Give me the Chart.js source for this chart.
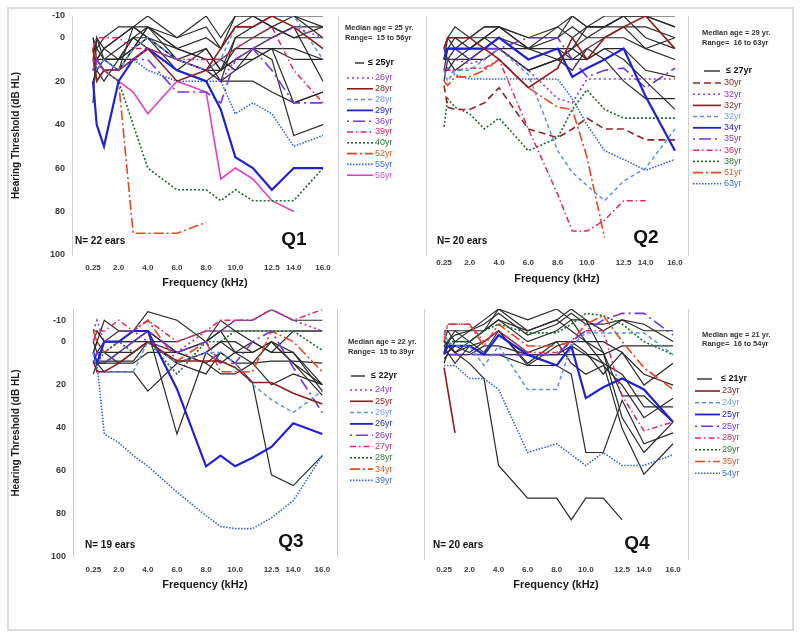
<!DOCTYPE html>
<html><head><meta charset="utf-8">
<script src="https://cdn.jsdelivr.net/npm/chart.js@4.4.1/dist/chart.umd.min.js"></script>
<style>
html,body{margin:0;padding:0;background:#fff}
body{width:800px;height:638px;position:relative;overflow:hidden}
canvas{position:absolute;left:0;top:0}
#frame{position:absolute;left:7px;top:7px;width:783px;height:620px;border:2px solid #dcdcdc}
</style></head><body>
<div id="frame"></div>
<canvas id="q1" width="800" height="638"></canvas>
<canvas id="q2" width="800" height="638"></canvas>
<canvas id="q3" width="800" height="638"></canvas>
<canvas id="q4" width="800" height="638"></canvas>
<script>
const FONT = '"Liberation Sans", Arial, sans-serif';

// ---------- axes ----------
const freqs = [0.25, 0.5, 1, 2, 3, 4, 6, 8, 9, 10, 11.2, 12.5, 14, 16];
const xTickValues = [0.25, 2, 4, 6, 8, 10, 12.5, 14, 16];
const xTickLabels = ['0.25', '2.0', '4.0', '6.0', '8.0', '10.0', '12.5', '14.0', '16.0'];
const yTickValues = [-10, 0, 20, 40, 60, 80, 100];
const yTickLabels = ['-10', '0', '20', '40', '60', '80', '100'];

// ---------- Q1 (dB HL at freqs) ----------
const q1_26yr  = [10, 12, 15, 15, 10, 5, 10, 15, 20, 10, 5, 0, -5, 0];
const q1_28yrA = [5, 20, 15, 15, 10, 5, 20, 15, 5, -5, -5, -10, -5, 5];
const q1_28yrB = [10, 15, 10, 15, 5, 0, 10, 15, 10, -5, -5, -10, -10, 10];
const q1_29yr  = [20, 40, 50, 20, 10, 5, 15, 20, 33, 55, 60, 70, 60, 60];
const q1_36yr  = [15, 10, 15, 15, 10, 10, 25, 25, 30, 10, 5, 15, 30, 30];
const q1_39yr  = [5, 0, 0, 0, 5, 5, 10, 10, 10, 5, 0, -5, 15, 30];
const q1_40yr  = [10, 10, 15, 20, 40, 60, 70, 70, 75, 70, 75, 75, 75, 60];
const q1_52yr  = [5, 10, 15, 20, 90, 90, 90, 85, null, null, null, null, null, null];
const q1_55yr  = [15, 15, 10, 15, 10, 15, 20, 20, 20, 35, 30, 35, 50, 45];
const q1_56yr  = [15, 10, 15, 20, 25, 35, 20, 25, 65, 60, 65, 75, 80, null];
const q1_black = [
  [0, 5, 0, -5, -5, -10, 0, -10, 0, -10, -10, -10, -10, -10],
  [10, 0, 5, 0, -5, 0, 10, 5, 15, 0, -5, -10, -10, -5],
  [5, 15, 10, 15, 5, -5, 10, 15, 20, 15, 5, 10, 45, 40],
  [15, 10, 5, 10, 0, 5, 10, 15, 15, 10, 10, 5, 30, 25],
  [10, 20, 15, 15, 5, 0, 10, 15, 10, 15, 10, 5, 10, 10],
  [30, 0, 10, 10, 0, 0, 10, 15, 20, 20, 20, 25, 30, 25],
  [0, 10, 15, 15, -5, 0, 5, 10, 20, 0, 0, 0, -5, 20],
  [5, 5, 10, 5, 0, -5, 5, 0, 5, -5, -10, -5, 0, -5],
  [15, 10, 10, 10, 5, 0, 15, 5, 15, 5, 0, -5, -10, 0],
  [10, 15, 10, 10, 10, 5, 15, 20, 15, 10, 5, 5, 5, 10],
  [5, 10, 5, 0, -5, -5, 5, 10, 10, 5, 5, 0, -5, -5],
  [20, 15, 20, 10, 5, -5, 0, -5, 5, -10, -10, -5, 0, 0]
];

// ---------- Q2 ----------
const q2_30yr  = [22, 32, 33, 33, 30, 23, 42, 46, 42, 37, 42, 42, 47, 47];
const q2_32yrA = [15, 10, 10, 12, 10, 5, 15, 28, 30, 19, 19, 19, 19, 19];
const q2_32yrB = [5, 0, 0, 0, 5, 10, 23, 14, 0, 10, 0, -5, -10, 5];
const q2_32yrC = [15, 20, 15, 15, 10, 5, 17, 52, 62, 68, 75, 66, 60, 42];
const q2_34yr  = [10, 5, 5, 5, 5, 0, 10, 5, 18, 14, 10, 5, 27, 52];
const q2_35yr  = [5, 5, 5, 10, 5, 5, 0, 0, 10, 18, 15, 14, 23, 14];
const q2_36yr  = [14, 15, 15, 14, 14, 10, 42, 72, 89, 89, 84, 75, 75, null];
const q2_38yr  = [41, 28, 32, 35, 42, 37, 52, 46, 33, 24, 33, 37, 37, 37];
const q2_51yr  = [20, 22, 18, 18, 15, 10, 23, 32, 33, 55, 92, null, null, null];
const q2_63yr  = [14, 14, 17, 19, 19, 19, 19, 19, 28, 40, 52, 56, 61, 56];
const q2_black = [
  [5, 0, -5, 0, -5, -5, 5, 0, -10, -5, -5, -10, -10, -10],
  [10, 0, 0, 0, -5, -5, 0, -5, 0, -5, -5, -10, -10, -5],
  [15, 5, 5, 5, 0, 5, 5, 10, 5, 0, 0, -5, 5, 0],
  [20, 10, 10, 5, 5, 0, 10, 5, 10, 5, 10, 20, 28, 28],
  [5, 10, 5, 10, 5, 5, 15, 10, 10, 10, 5, 10, 20, 33],
  [15, 15, 10, 10, 10, 5, 15, 10, 15, 5, 0, 0, 5, 10],
  [5, 5, 0, 5, 0, 0, 5, 5, 5, -5, -10, -10, 0, 5],
  [10, 10, 15, 10, 5, 5, 15, 10, 5, 10, 5, 5, 15, 18],
  [10, 5, 5, 0, 0, -5, 0, 0, -5, 0, -5, -5, -5, 0],
  [5, 0, 5, 5, 0, -5, 5, -5, -10, -5, -5, -10, -10, -5]
];

// ---------- Q3 ----------
const q3_24yr  = [-5, -10, 0, -5, -5, 0, 5, -5, -5, -10, -10, -15, -10, -5];
const q3_25yr  = [9, 14, 14, 10, 5, 0, 9, 9, 9, 12, 19, 19, 24, 29];
const q3_26yrA = [5, 14, 14, 14, 14, 0, 10, 5, 5, 10, 20, 27, 33, 23];
const q3_26yrB = [5, 10, 0, 0, -5, -5, 22, 58, 53, 58, 54, 49, 38, 43];
const q3_26yrC = [10, 5, 10, 5, 0, -5, 5, 0, 10, 10, 0, -5, 12, 33];
const q3_27yr  = [0, -5, -5, -10, -5, -10, 0, -5, -10, -10, -10, -15, -10, -15];
const q3_28yr  = [5, 10, 5, 0, 5, 0, 15, 0, 0, -5, -5, -5, -5, 4];
const q3_34yr  = [-5, 0, 5, 0, -5, -10, 9, 0, 14, 14, 14, -5, 0, 14];
const q3_39yr  = [5, 10, 43, 47, 53, 58, 70, 81, 86, 87, 87, 82, 74, 53];
const q3_black = [
  [5, 10, 14, 14, 14, 23, 10, 5, 0, 5, 10, 20, 15, 20],
  [0, -5, 0, 0, 0, -5, 43, 5, 0, 0, 5, 0, 5, 23],
  [10, 5, 5, 5, 0, 0, 5, 10, 5, 10, 19, 62, 67, 53],
  [-5, -5, 0, -5, -5, -14, -10, 0, -10, -5, 0, 5, 5, 20],
  [5, 0, -10, -5, -5, -5, 5, 0, -5, -10, -10, -15, -10, -10],
  [10, 10, 10, 5, 5, 0, 0, -5, -5, -5, -5, -5, -5, -5],
  [15, 10, 10, 10, 10, 5, 5, 10, 15, 15, 10, 0, 10, 20],
  [9, 9, 9, 9, 9, 0, 10, 15, 5, 10, 10, 9, 9, 10],
  [0, 5, 0, 0, 0, -5, 5, 0, -5, 5, 0, 5, -5, -5],
  [5, 0, 5, 10, 5, 0, 10, 5, 10, 5, 5, 0, 10, 25]
];

// ---------- Q4 ----------
const q4_23yr  = [12, null, 42, null, null, null, null, null, null, null, null, null, null, null];
const q4_24yr  = [-5, 0, 2, 2, 11, 2, 22, 22, 2, -4, -4, -4, -4, 6];
const q4_25yrA = [6, 2, 2, 2, 6, -3, 6, 11, 2, 26, 21, 17, 22, 37];
const q4_25yrB = [5, 6, 6, 6, 6, 6, 6, 6, 0, -5, -10, -13, -13, -3];
const q4_28yr  = [-3, -8, -8, -8, 0, -5, 5, 5, 0, -5, -5, 25, 41, 37];
const q4_29yr  = [0, 0, 0, 0, -5, -8, -4, -4, -8, -13, -12, -8, 0, 6];
const q4_35yr  = [0, -8, -8, -8, 2, -8, 2, 2, 0, -8, -12, 0, 12, 22];
const q4_54yr  = [11, 11, 11, 17, 17, 22, 51, 47, 52, 57, 51, 57, 57, 52];
const q4_black = [
  [5, 0, -5, 0, 5, -5, 5, 0, 0, 5, 15, 5, 15, 20],
  [0, 2, 5, 10, 17, 57, 72, 72, 82, 72, 72, 82, null, null],
  [2, 5, 10, 2, 6, 6, 11, 11, 15, 51, 51, 27, 47, 42],
  [5, 0, 5, 0, -5, -10, -5, -10, -5, 0, 10, 40, 61, 47],
  [0, -5, -5, -5, -10, -15, -10, -15, -10, 0, 5, 35, 51, 37],
  [10, 5, 2, 5, 0, -5, 10, 0, 10, 15, 11, 20, 35, 26],
  [5, 5, 0, -5, -5, -15, -5, -10, -15, -10, 5, 25, 25, 37],
  [-5, -5, 0, 0, -5, -10, 0, -5, -10, -10, -5, -10, -5, -5],
  [5, 2, 2, 2, 6, 6, 6, 6, 6, 6, 6, 2, 2, 2],
  [0, 2, 5, 2, 0, -5, 11, 2, 0, 0, 0, 5, 20, 10],
  [2, 0, -3, -5, -8, -13, -3, -8, -13, -8, -8, -10, -8, 0],
  [8, 6, 6, 6, 2, 2, 6, 6, 2, 6, 10, 15, 30, 30]
];

// ---------- styles ----------
const STY = {
  black:      {color: '#2a2a2a', text: '#111111', dash: [], w: 1.2},
  violetDot:  {color: '#9a35d6', text: '#9a35d6', dash: [2, 3], w: 1.6},
  maroon:     {color: '#8e1c1c', text: '#8e1c1c', dash: [], w: 1.6},
  maroonDash: {color: '#8e2424', text: '#8e2424', dash: [7, 4], w: 1.6},
  ltBlueDash: {color: '#5b8ff0', text: '#6e9ef0', dash: [4, 3], w: 1.5},
  blue:       {color: '#1f22d0', text: '#2325b8', dash: [], w: 2.2},
  purpleLong: {color: '#7434e0', text: '#7a3ae0', dash: [2, 4, 12, 4], w: 1.6},
  crimsonDD:  {color: '#e2285e', text: '#d8285e', dash: [6, 3, 1.5, 3], w: 1.5},
  greenDot:   {color: '#1d6b2a', text: '#2a7a35', dash: [2, 2], w: 1.6},
  orangeLD:   {color: '#e8481c', text: '#e0582a', dash: [10, 3, 2, 3], w: 1.6},
  blueDot:    {color: '#2f62e8', text: '#3a6fe0', dash: [1.5, 1.5], w: 1.6},
  magenta:    {color: '#e042c8', text: '#dd55cc', dash: [], w: 1.6}
};

const PANELS = [
  {canvas: 'q1', blackLabel: '\u2264 25yr', black: q1_black,
   series: [['26yr','violetDot',q1_26yr],['28yr','maroon',q1_28yrA],['28yr','ltBlueDash',q1_28yrB],['29yr','blue',q1_29yr],
            ['36yr','purpleLong',q1_36yr],['39yr','crimsonDD',q1_39yr],['40yr','greenDot',q1_40yr],['52yr','orangeLD',q1_52yr],
            ['55yr','blueDot',q1_55yr],['56yr','magenta',q1_56yr]],
   median: 'Median age = 25 yr.', range: 'Range=  15 to 56yr', n: 'N= 22 ears', q: 'Q1',
   area: {l: 72, r: 338, t: 16, b: 255}, yMin: -10, xMin: -1.19, xMax: 17.03, showY: true, yW: 72, xH: 45, xTickPad: 8, xTitlePad: 10,
   lg: {hx: 345, hy: 28, hy2: 38, bx1: 355, bx2: 364, btx: 368, by: 63, x1: 347, x2: 373, tx: 375, y0: 78, dy: 10.8},
   nPos: [75, 241], qPos: [294, 240]},
  {canvas: 'q2', blackLabel: '\u2264 27yr', black: q2_black,
   series: [['30yr','maroonDash',q2_30yr],['32yr','violetDot',q2_32yrA],['32yr','maroon',q2_32yrB],['32yr','ltBlueDash',q2_32yrC],
            ['34yr','blue',q2_34yr],['35yr','purpleLong',q2_35yr],['36yr','crimsonDD',q2_36yr],['38yr','greenDot',q2_38yr],
            ['51yr','orangeLD',q2_51yr],['63yr','blueDot',q2_63yr]],
   median: 'Median age = 29 yr.', range: 'Range=  16 to 63yr', n: 'N= 20 ears', q: 'Q2',
   area: {l: 426, r: 688, t: 16, b: 255}, yMin: -10, xMin: -0.98, xMax: 16.89, showY: false, yW: 0, xH: 40, xTickPad: 3, xTitlePad: 9,
   lg: {hx: 702, hy: 33, hy2: 43, bx1: 704, bx2: 720, btx: 726, by: 71, x1: 693, x2: 721, tx: 724, y0: 83, dy: 11.2},
   nPos: [437, 241], qPos: [646, 238]},
  {canvas: 'q3', blackLabel: '\u2264 22yr', black: q3_black,
   series: [['24yr','violetDot',q3_24yr],['25yr','maroon',q3_25yr],['26yr','ltBlueDash',q3_26yrA],['26yr','blue',q3_26yrB],
            ['26yr','purpleLong',q3_26yrC],['27yr','crimsonDD',q3_27yr],['28yr','greenDot',q3_28yr],['34yr','orangeLD',q3_34yr],
            ['39yr','blueDot',q3_39yr]],
   median: 'Median age = 22 yr.', range: 'Range=  15 to 39yr', n: 'N= 19 ears', q: 'Q3',
   area: {l: 73, r: 337, t: 309.5, b: 556.5}, yMin: -15, xMin: -1.15, xMax: 17.01, showY: true, yW: 73, xH: 45, xTickPad: 8.5, xTitlePad: 10,
   lg: {hx: 348, hy: 342, hy2: 352, bx1: 351, bx2: 365, btx: 371, by: 376, x1: 350, x2: 373, tx: 375, y0: 390, dy: 11.3},
   nPos: [85, 545], qPos: [291, 542]},
  {canvas: 'q4', blackLabel: '\u2264 21yr', black: q4_black,
   series: [['23yr','maroon',q4_23yr],['24yr','ltBlueDash',q4_24yr],['25yr','blue',q4_25yrA],['25yr','purpleLong',q4_25yrB],
            ['28yr','crimsonDD',q4_28yr],['29yr','greenDot',q4_29yr],['35yr','orangeLD',q4_35yr],['54yr','blueDot',q4_54yr]],
   median: 'Median age = 21 yr.', range: 'Range=  16 to 54yr', n: 'N= 20 ears', q: 'Q4',
   area: {l: 424, r: 688, t: 309, b: 559}, yMin: -15, xMin: -1.13, xMax: 17.03, showY: false, yW: 0, xH: 45, xTickPad: 6, xTitlePad: 12,
   lg: {hx: 702, hy: 335, hy2: 344, bx1: 697, bx2: 712, btx: 721, by: 379, x1: 695, x2: 720, tx: 722, y0: 391, dy: 11.75},
   nPos: [433, 545], qPos: [637, 544]}
];

function toPoints(vals) {
  const pts = [];
  vals.forEach((v, i) => { if (v !== null && v !== undefined) pts.push({x: freqs[i], y: v}); });
  return pts;
}
function makeDataset(label, st, vals) {
  return {label, data: toPoints(vals), borderColor: st.color, backgroundColor: st.color,
          borderWidth: st.w, borderDash: st.dash, pointRadius: 0, tension: 0, fill: false, spanGaps: true};
}

function annotPlugin(p) {
  return {
    id: 'annot_' + p.canvas,
    afterDraw(chart) {
      const ctx = chart.ctx, lg = p.lg;
      ctx.save();
      ctx.textBaseline = 'middle';
      ctx.textAlign = 'left';
      ctx.fillStyle = '#333';
      ctx.font = 'bold 7.5px ' + FONT;
      ctx.fillText(p.median, lg.hx, lg.hy);
      ctx.fillText(p.range, lg.hx, lg.hy2);
      ctx.lineWidth = 1.4; ctx.strokeStyle = STY.black.color; ctx.setLineDash([]);
      ctx.beginPath(); ctx.moveTo(lg.bx1, lg.by); ctx.lineTo(lg.bx2, lg.by); ctx.stroke();
      ctx.fillStyle = '#111'; ctx.font = 'bold 9px ' + FONT;
      ctx.fillText(p.blackLabel, lg.btx, lg.by);
      ctx.font = '9px ' + FONT;
      p.series.forEach(([label, sk], i) => {
        const st = STY[sk], y = lg.y0 + i * lg.dy;
        ctx.setLineDash(st.dash); ctx.lineWidth = Math.min(st.w, 1.8); ctx.strokeStyle = st.color;
        ctx.beginPath(); ctx.moveTo(lg.x1, y); ctx.lineTo(lg.x2, y); ctx.stroke();
        ctx.setLineDash([]);
        ctx.fillStyle = st.text; ctx.fillText(label, lg.tx, y);
      });
      ctx.fillStyle = '#111';
      ctx.font = 'bold 10px ' + FONT;
      ctx.fillText(p.n, p.nPos[0], p.nPos[1]);
      ctx.textAlign = 'center';
      ctx.font = 'bold 19px ' + FONT;
      ctx.fillText(p.q, p.qPos[0], p.qPos[1]);
      ctx.restore();
    }
  };
}

function makeChart(p) {
  const datasets = [];
  p.series.forEach(([label, sk, vals]) => datasets.push(makeDataset(label, STY[sk], vals)));
  p.black.forEach(vals => datasets.push(makeDataset(p.blackLabel, STY.black, vals)));
  const axisGray = '#d0d0d0';
  new Chart(document.getElementById(p.canvas), {
    type: 'line',
    data: {datasets},
    options: {
      responsive: false, animation: false, events: [],
      layout: {padding: {left: p.area.l - p.yW, right: 800 - p.area.r, top: p.area.t, bottom: 638 - p.area.b - p.xH}},
      plugins: {legend: {display: false}, tooltip: {enabled: false}},
      scales: {
        x: {type: 'linear', min: p.xMin, max: p.xMax,
            afterBuildTicks: s => { s.ticks = xTickValues.map(v => ({value: v})); },
            afterFit: s => { s.height = p.xH; },
            ticks: {autoSkip: false, maxRotation: 0, padding: p.xTickPad, color: '#3a3a3a',
                    font: {family: FONT, size: 8, weight: 'bold'},
                    callback: v => xTickLabels[xTickValues.indexOf(v)]},
            grid: {display: false, drawTicks: false}, border: {display: false},
            title: {display: true, text: 'Frequency (kHz)', color: '#1a1a1a',
                    font: {family: FONT, size: 11, weight: 'bold'}, padding: {top: 0, bottom: p.xTitlePad}}},
        y: {type: 'linear', position: 'left', reverse: true, min: p.yMin, max: 100,
            afterBuildTicks: s => { s.ticks = yTickValues.map(v => ({value: v})); },
            afterFit: s => { s.width = p.yW; },
            ticks: {display: p.showY, padding: 7, color: '#3a3a3a', font: {family: FONT, size: 9, weight: 'bold'},
                    callback: v => yTickLabels[yTickValues.indexOf(v)]},
            grid: {drawOnChartArea: false, drawTicks: false, color: axisGray},
            border: {display: true, color: axisGray, width: 1},
            title: {display: p.showY, text: 'Hearing Threshold (dB HL)', color: '#1a1a1a',
                    font: {family: FONT, size: 10, weight: 'bold'}, padding: {top: 10, bottom: 0}}},
        yR: {type: 'linear', position: 'right', reverse: true, min: p.yMin, max: 100,
             afterFit: s => { s.width = 0; },
             ticks: {display: false},
             grid: {drawOnChartArea: false, drawTicks: false, color: axisGray},
             border: {display: true, color: axisGray, width: 1}}
      }
    },
    plugins: [annotPlugin(p)]
  });
}

PANELS.forEach(makeChart);
</script>
</body></html>
